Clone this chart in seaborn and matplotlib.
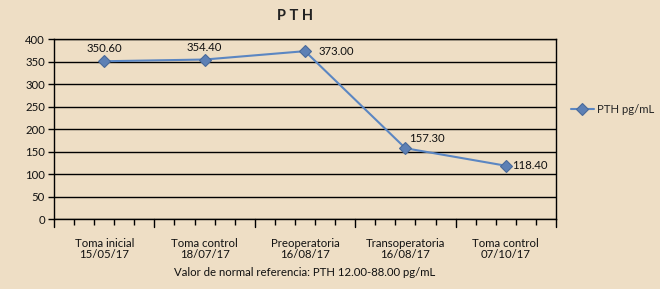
import matplotlib
matplotlib.use("Agg")
import matplotlib.pyplot as plt
import seaborn as sns
import pandas as pd
from matplotlib.ticker import FixedLocator

categories = ["Toma inicial\n15/05/17", "Toma control\n18/07/17", "Preoperatoria\n16/08/17",
              "Transoperatoria\n16/08/17", "Toma control\n07/10/17"]
values = [350.60, 354.40, 373.00, 157.30, 118.40]
labels = ["350.60", "354.40", "373.00", "157.30", "118.40"]
series_name = "PTH pg/mL"
yticks = [0, 50, 100, 150, 200, 250, 300, 350, 400]

sns.set_theme(style="white")
plt.rcParams['font.family'] = ['Lato', 'DejaVu Sans']
bg = "#EEDEC5"
fs = 8.2
fig = plt.figure(figsize=(6.6, 2.89), dpi=100, facecolor=bg)
ax = fig.add_axes([0.0818, 0.2422, 0.7606, 0.6228])
ax.set_facecolor(bg)

df = pd.DataFrame({"x": range(len(values)), "y": values, "s": series_name})
sns.lineplot(data=df, x="x", y="y", hue="s", palette=["#5B86C2"], marker="D",
             markersize=6.5, markerfacecolor="#5D80B5", markeredgecolor="#4A6A9A",
             markeredgewidth=0.8, linewidth=1.5, ax=ax)

ax.set_xlim(-0.5, len(values) - 0.5)
ax.set_ylim(0, 400)
ax.set_yticks(yticks)
ax.set_yticklabels([str(t) for t in yticks], fontsize=fs, color="#111111")
ax.yaxis.grid(True, color="black", linewidth=1.0)
ax.set_axisbelow(True)
for sp in ax.spines.values():
    sp.set_color("black")
    sp.set_linewidth(1.0)

ax.set_xticks(range(len(values)))
ax.set_xticklabels(categories, fontsize=fs, color="#111111", linespacing=1.0)
ax.tick_params(axis="x", which="major", length=0, pad=14)
ax.tick_params(axis="y", which="major", length=4.5, width=1, color="black", left=True, pad=2)
bounds = [i - 0.5 for i in range(len(values) + 1)]
minors = [b + k * 0.2 for b in bounds[:-1] for k in range(1, 5)]
ax.xaxis.set_minor_locator(FixedLocator(minors))
ax.tick_params(axis="x", which="minor", length=4, width=1, color="black", bottom=True)
for b in bounds:
    ax.plot([b, b], [0, -0.045], transform=ax.get_xaxis_transform(), color="black",
            linewidth=1, clip_on=False)
ax.set_xlabel("")
ax.set_ylabel("")

offsets = [(0, 5), (0, 5), (10, 0), (3, 3), (4.5, 0)]
has = ["center", "center", "left", "left", "left"]
vas = ["bottom", "bottom", "center", "bottom", "center"]
for i, (v, t) in enumerate(zip(values, labels)):
    ax.annotate(t, (i, v), xytext=offsets[i], textcoords="offset points",
                ha=has[i], va=vas[i], fontsize=fs, color="#111111")

leg = ax.legend(loc="center left", bbox_to_anchor=(1.03, 0.61), frameon=False,
                fontsize=fs, handlelength=2.0, handletextpad=0.3,
                borderpad=0, borderaxespad=0)

fig.text(0.447, 0.945, "P T H", ha="center", va="center", fontsize=10.5,
         fontweight="bold", color="#222222")
fig.text(0.462, 0.058, "Valor de normal referencia: PTH 12.00-88.00 pg/mL",
         ha="center", va="center", fontsize=fs, color="#111111")

fig.savefig("out.png", dpi=100, facecolor=bg)
